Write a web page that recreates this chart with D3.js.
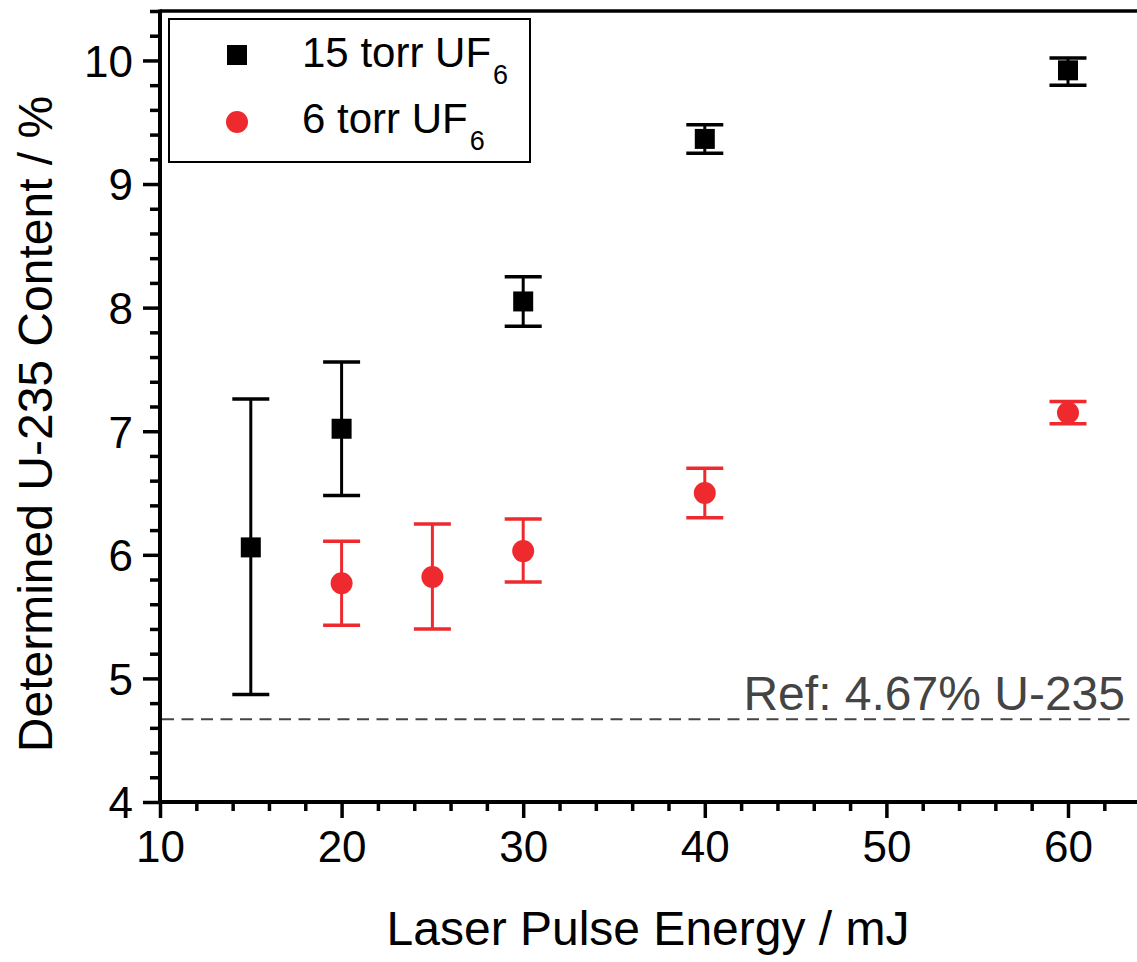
<!DOCTYPE html>
<html><head><meta charset="utf-8">
<script src="https://cdn.jsdelivr.net/npm/d3@7/dist/d3.min.js"></script>
<style>body{margin:0;background:#fff}svg{display:block}text{font-family:"Liberation Sans",Arial,sans-serif}</style>
</head><body><svg id="c" width="1137" height="962"></svg>
<script>
// Data
const energy15 = [15, 20, 30, 40, 60];
const value15  = [6.06, 7.02, 8.05, 9.365, 9.92];
const errHi15  = [7.26, 7.56, 8.25, 9.48, 10.02];
const errLo15  = [4.87, 6.48, 7.85, 9.25, 9.80];
const energy6  = [20, 25, 30, 40, 60];
const value6   = [5.77, 5.82, 6.03, 6.50, 7.15];
const errHi6   = [6.11, 6.25, 6.29, 6.70, 7.24];
const errLo6   = [5.43, 5.40, 5.78, 6.30, 7.06];
const refValue = 4.67;
const xTicks = [10, 20, 30, 40, 50, 60];
const yTicks = [4, 5, 6, 7, 8, 9, 10];
const seriesNames = ["15 torr UF", "6 torr UF"];

const svg = d3.select("#c");
const L = 160, R = 1137, T = 11, B = 802;
const x = d3.scaleLinear().domain([10, 63.8]).range([L, R]);
const y = d3.scaleLinear().domain([4, 10.4]).range([B, T]);
const red = "#ee2a2e";

// minor ticks
const xMinor = d3.range(10, 63, 2).filter(v => v % 10 !== 0);
const yMinor = d3.range(4, 10.41, 0.2).map(v => +v.toFixed(1)).filter(v => Math.abs(v - Math.round(v)) > 0.01);

function styleAxis(g) {
  g.select(".domain").remove();
  g.selectAll(".tick line").attr("stroke", "#000").attr("stroke-width", 3.5);
  g.selectAll(".tick text").attr("font-size", 44).attr("fill", "#000");
}
svg.append("g").attr("transform", `translate(0,${B})`)
  .call(d3.axisBottom(x).tickValues(xMinor).tickSize(9).tickFormat(""))
  .call(styleAxis);
svg.append("g").attr("transform", `translate(0,${B})`)
  .call(d3.axisBottom(x).tickValues(xTicks).tickSize(16).tickPadding(13).tickFormat(d3.format("d")))
  .call(styleAxis);
svg.append("g").attr("transform", `translate(${L},0)`)
  .call(d3.axisLeft(y).tickValues(yMinor).tickSize(10).tickFormat(""))
  .call(styleAxis);
svg.append("g").attr("transform", `translate(${L},0)`)
  .call(d3.axisLeft(y).tickValues(yTicks).tickSize(17).tickPadding(10).tickFormat(d3.format("d")))
  .call(styleAxis)
  .selectAll(".tick text").attr("dy", "0.36em");

// frame lines
svg.append("line").attr("x1", L).attr("x2", R).attr("y1", B).attr("y2", B).attr("stroke", "#000").attr("stroke-width", 4);
svg.append("line").attr("x1", L).attr("x2", L).attr("y1", T - 1.5).attr("y2", B + 2).attr("stroke", "#000").attr("stroke-width", 4);
svg.append("line").attr("x1", L).attr("x2", R).attr("y1", T).attr("y2", T).attr("stroke", "#000").attr("stroke-width", 3.5);

// reference line
svg.append("line").attr("x1", L + 2).attr("x2", R).attr("y1", y(refValue)).attr("y2", y(refValue))
  .attr("stroke", "#444").attr("stroke-width", 2).attr("stroke-dasharray", "12,7.5");
svg.append("text").attr("x", 1125).attr("y", y(refValue) - 9).attr("text-anchor", "end")
  .attr("font-size", 48).attr("fill", "#444").text("Ref: " + refValue + "% U-235");

// error bars
function errorBars(xs, lo, hi, color) {
  const g = svg.append("g").attr("stroke", color).attr("stroke-width", 3);
  xs.forEach((xv, i) => {
    g.append("line").attr("x1", x(xv)).attr("x2", x(xv)).attr("y1", y(lo[i])).attr("y2", y(hi[i]));
    g.append("line").attr("x1", x(xv) - 18.5).attr("x2", x(xv) + 18.5).attr("y1", y(lo[i])).attr("y2", y(lo[i])).attr("stroke-width", 3.5);
    g.append("line").attr("x1", x(xv) - 18.5).attr("x2", x(xv) + 18.5).attr("y1", y(hi[i])).attr("y2", y(hi[i])).attr("stroke-width", 3.5);
  });
}
errorBars(energy15, errLo15, errHi15, "#000");
errorBars(energy6, errLo6, errHi6, red);

svg.append("g").selectAll("rect").data(energy15).join("rect")
  .attr("x", (d) => x(d) - 10).attr("y", (d, i) => y(value15[i]) - 10)
  .attr("width", 20).attr("height", 20).attr("fill", "#000");
svg.append("g").selectAll("circle").data(energy6).join("circle")
  .attr("cx", (d) => x(d)).attr("cy", (d, i) => y(value6[i])).attr("r", 11).attr("fill", red);

// legend
const lg = svg.append("g");
lg.append("rect").attr("x", 169).attr("y", 19).attr("width", 361).attr("height", 143)
  .attr("fill", "#fff").attr("stroke", "#000").attr("stroke-width", 2);
lg.append("rect").attr("x", 237 - 10).attr("y", 55 - 10).attr("width", 20).attr("height", 20).attr("fill", "#000");
lg.append("circle").attr("cx", 237).attr("cy", 122).attr("r", 11).attr("fill", red);
[67, 133].forEach((by, i) => {
  const t = lg.append("text").attr("x", 302).attr("y", by).attr("font-size", 42).attr("fill", "#000");
  t.append("tspan").text(seriesNames[i]);
  t.append("tspan").attr("font-size", 27).attr("dy", 17).attr("dx", 2).text("6");
});

// axis titles
svg.append("text").attr("x", 648).attr("y", 945).attr("text-anchor", "middle")
  .attr("font-size", 48).attr("fill", "#000").text("Laser Pulse Energy / mJ");
svg.append("text").attr("transform", "translate(52,424) rotate(-90)").attr("text-anchor", "middle")
  .attr("font-size", 48).attr("fill", "#000").text("Determined U-235 Content / %");
</script></body></html>
